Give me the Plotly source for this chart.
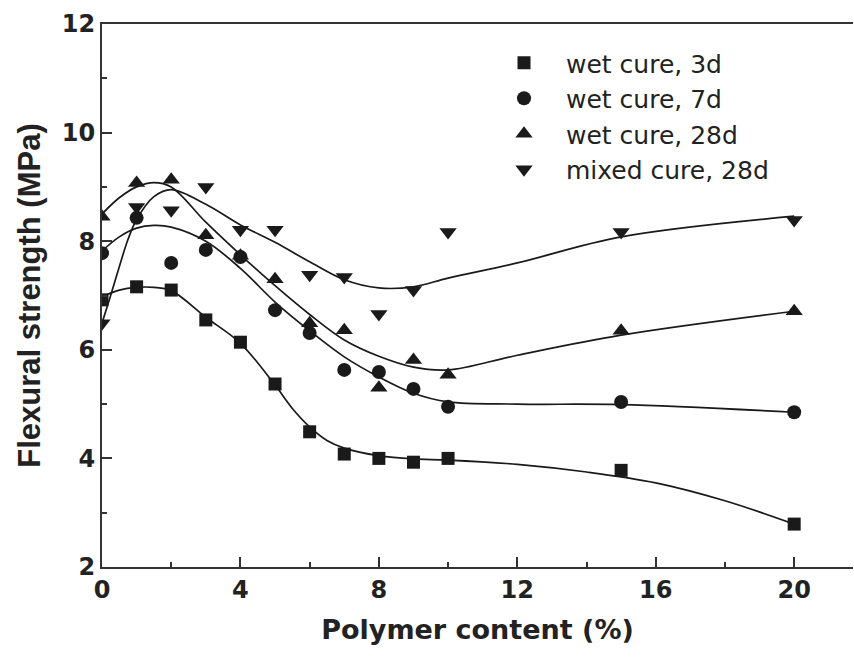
import plotly.graph_objects as go

# ---- data ----
x_pts = [0, 1, 2, 3, 4, 5, 6, 7, 8, 9, 10, 15, 20]
wet3 = [6.92, 7.16, 7.10, 6.55, 6.14, 5.37, 4.49, 4.08, 4.00, 3.93, 4.00, 3.78, 2.79]
wet7 = [7.78, 8.43, 7.60, 7.84, 7.71, 6.73, 6.31, 5.63, 5.59, 5.28, 4.95, 5.04, 4.85]
wet28 = [8.45, 9.07, 9.13, 8.11, 7.73, 7.30, 6.49, 6.36, 5.30, 5.81, 5.54, 6.35, 6.71]
mixed28 = [6.49, 8.63, 8.57, 9.00, 8.21, 8.21, 7.38, 7.34, 6.66, 7.10, 8.17, 8.17, 8.39]

# fitted curves
wet3_fit_x = [0, 0.5, 1, 1.5, 2, 3, 4, 5, 5.5, 6, 6.5, 7, 8, 9, 10, 12, 14, 16, 18, 20]
wet3_fit = [6.98, 7.10, 7.15, 7.15, 7.09, 6.60, 6.12, 5.35, 4.92, 4.58, 4.33, 4.19, 4.05, 3.99, 3.97, 3.89, 3.75, 3.55, 3.22, 2.79]
wet7_fit_x = [0, 0.5, 1, 1.5, 2, 3, 4, 5, 6, 7, 8, 9, 10, 12, 15, 20]
wet7_fit = [7.82, 8.08, 8.24, 8.29, 8.26, 8.00, 7.50, 6.88, 6.35, 5.87, 5.50, 5.20, 5.04, 5.00, 4.99, 4.85]
wet28_fit_x = [0, 0.5, 1, 1.5, 2, 3, 4, 5, 6, 7, 8, 9, 10, 12, 15, 20]
wet28_fit = [8.50, 8.80, 9.00, 9.08, 9.00, 8.35, 7.75, 7.18, 6.65, 6.18, 5.88, 5.68, 5.63, 5.90, 6.27, 6.71]
mixed28_fit_x = [0, 0.25, 0.5, 0.75, 1, 1.5, 2, 3, 4, 5, 6, 7, 8, 9, 10, 12, 15, 20]
mixed28_fit = [6.49, 7.00, 7.53, 8.03, 8.40, 8.82, 8.95, 8.68, 8.30, 7.98, 7.62, 7.29, 7.14, 7.16, 7.32, 7.60, 8.08, 8.46]

names = ["wet cure, 3d", "wet cure, 7d", "wet cure, 28d", "mixed cure, 28d"]
symbols = ["square", "circle", "triangle-up", "triangle-down"]
sizes = [13, 14, 15, 15]

INK = "#1a1a1a"
fig = go.Figure()

fits = [(wet3_fit_x, wet3_fit), (wet7_fit_x, wet7_fit), (wet28_fit_x, wet28_fit), (mixed28_fit_x, mixed28_fit)]
for fx, fy in fits:
    fig.add_trace(go.Scatter(x=fx, y=fy, mode="lines", line=dict(color=INK, width=1.7, shape="spline", smoothing=1.0),
                             showlegend=False, hoverinfo="skip"))

for vals, nm, sym, sz in zip([wet3, wet7, wet28, mixed28], names, symbols, sizes):
    fig.add_trace(go.Scatter(x=x_pts, y=vals, mode="markers", name=nm,
                             marker=dict(symbol=sym, size=sz, color=INK, line=dict(width=0))))

tickfont = dict(family="DejaVu Sans", size=24, color="#222", weight="bold")
fig.update_layout(
    width=854, height=657,
    margin=dict(l=102, r=1, t=24, b=90),
    paper_bgcolor="white", plot_bgcolor="white",
    showlegend=True,
    legend=dict(x=0.506, y=0.9705, xanchor="left", yanchor="top",
                font=dict(family="DejaVu Sans", size=25, color="#222"),
                bgcolor="rgba(0,0,0,0)", itemwidth=74, tracegroupgap=0),
    xaxis=dict(range=[0, 21.7], tickvals=[0, 4, 8, 12, 16, 20], ticks="inside", ticklen=10, tickwidth=1.5,
               tickcolor="#333", showline=True, linecolor="#333", linewidth=2, mirror=True,
               showgrid=False, zeroline=False, tickfont=tickfont,
               minor=dict(tickvals=[2, 6, 10, 14, 18], ticks="inside", ticklen=5, tickwidth=1.5, tickcolor="#333"),
               title=dict(text="Polymer content (%)", standoff=17,
                          font=dict(family="DejaVu Sans", size=27, color="#222", weight="bold"))),
    yaxis=dict(range=[2, 12], tickvals=[2, 4, 6, 8, 10, 12], ticks="inside", ticklen=10, tickwidth=1.5,
               tickcolor="#333", showline=True, linecolor="#333", linewidth=2, mirror=False,
               showgrid=False, zeroline=False, tickfont=tickfont,
               minor=dict(tickvals=[3, 5, 7, 9, 11], ticks="inside", ticklen=5, tickwidth=1.5, tickcolor="#333"),
               title=dict(text="Flexural strength (MPa)", standoff=12,
                          font=dict(family="Liberation Sans", size=31, color="#222", weight="bold"))),
)

fig.write_html("out.html")
